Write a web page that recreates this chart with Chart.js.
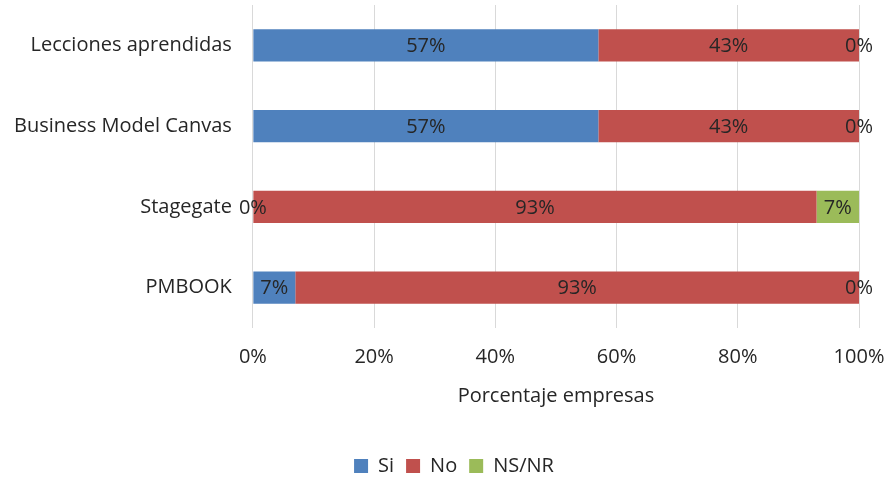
<!DOCTYPE html>
<html>
<head>
	<title></title>
<script src="https://cdn.jsdelivr.net/npm/chart.js@4/dist/chart.umd.min.js"></script>
<style>
  body { margin: 0; background: #fff; }
  #holder { width: 888px; height: 479px; }
</style>
</head>
<body>
<div id="holder">
        <canvas id="barcanvas"></canvas>
</div>

<script>
    var categorias = ["Lecciones aprendidas", "Business Model Canvas", "Stagegate", "PMBOOK"];
    var si = [57, 57, 0, 7];
    var no = [43, 43, 93, 93];
    var nsnr = [0, 0, 7, 0];
    var ticksX = [0, 20, 40, 60, 80, 100];

    var fuente = "'Open Sans', 'Noto Sans', sans-serif";
    var texto = '#262626';

    // writes the percentage in the middle of every segment
    var etiquetas = {
        id: 'etiquetas',
        afterDatasetsDraw: function(chart) {
            var ctx = chart.ctx;
            ctx.save();
            ctx.font = '20px ' + fuente;
            ctx.fillStyle = texto;
            ctx.textAlign = 'center';
            ctx.textBaseline = 'middle';
            chart.data.datasets.forEach(function(ds, i) {
                var meta = chart.getDatasetMeta(i);
                meta.data.forEach(function(bar, j) {
                    var cx = (bar.x + bar.base) / 2;
                    ctx.fillText(ds.data[j] + '%', cx, bar.y + 1);
                });
            });
            ctx.restore();
        }
    };

    // legend sits a bit right of the middle
    var moverLeyenda = {
        id: 'moverLeyenda',
        afterLayout: function(chart) {
            chart.legend.left += 28;
            chart.legend.right += 28;
        }
    };

    var config = {
        type: 'bar',
        data: {
            labels: categorias,
            datasets: [
                { label: 'Si', data: si, backgroundColor: '#4f81bd' },
                { label: 'No', data: no, backgroundColor: '#c0504d' },
                { label: 'NS/NR', data: nsnr, backgroundColor: '#9bbb59' }
            ]
        },
        options: {
            indexAxis: 'y',
            responsive: true,
            maintainAspectRatio: false,
            animation: false,
            categoryPercentage: 1,
            barPercentage: 0.4,
            layout: { padding: { top: 5, right: 29, left: -7, bottom: -7 } },
            scales: {
                x: {
                    stacked: true,
                    min: 0,
                    max: 100,
                    afterBuildTicks: function(axis) {
                        axis.ticks = ticksX.map(function(v) { return { value: v }; });
                    },
                    afterFit: function(axis) {
                        axis.paddingLeft = 0;
                        axis.paddingRight = 0;
                    },
                    grid: { color: '#d9d9d9', lineWidth: 1, drawTicks: false },
                    border: { display: false },
                    ticks: {
                        padding: 17,
                        color: texto,
                        font: { size: 20, family: fuente },
                        callback: function(v) { return v + '%'; }
                    },
                    title: {
                        display: true,
                        text: 'Porcentaje empresas',
                        color: texto,
                        font: { size: 20, family: fuente },
                        padding: { top: -2, bottom: 36 }
                    }
                },
                y: {
                    stacked: true,
                    grid: { display: false, drawTicks: false },
                    border: { display: false },
                    // no extra room above/below the category labels
                    afterFit: function(axis) {
                        axis.paddingTop = 0;
                        axis.paddingBottom = 0;
                    },
                    ticks: {
                        padding: 21,
                        color: texto,
                        font: { size: 20, family: fuente }
                    }
                }
            },
            plugins: {
                legend: {
                    position: 'bottom',
                    labels: {
                        boxWidth: 14,
                        boxHeight: 14,
                        padding: 12,
                        color: texto,
                        font: { size: 20, family: fuente }
                    }
                },
                tooltip: { enabled: false }
            }
        },
        plugins: [etiquetas, moverLeyenda]
    };

    window.onload = function() {
        var ctx = document.getElementById("barcanvas").getContext("2d");
        window.myBar = new Chart(ctx, config);
    };
</script>
</body>
</html>
